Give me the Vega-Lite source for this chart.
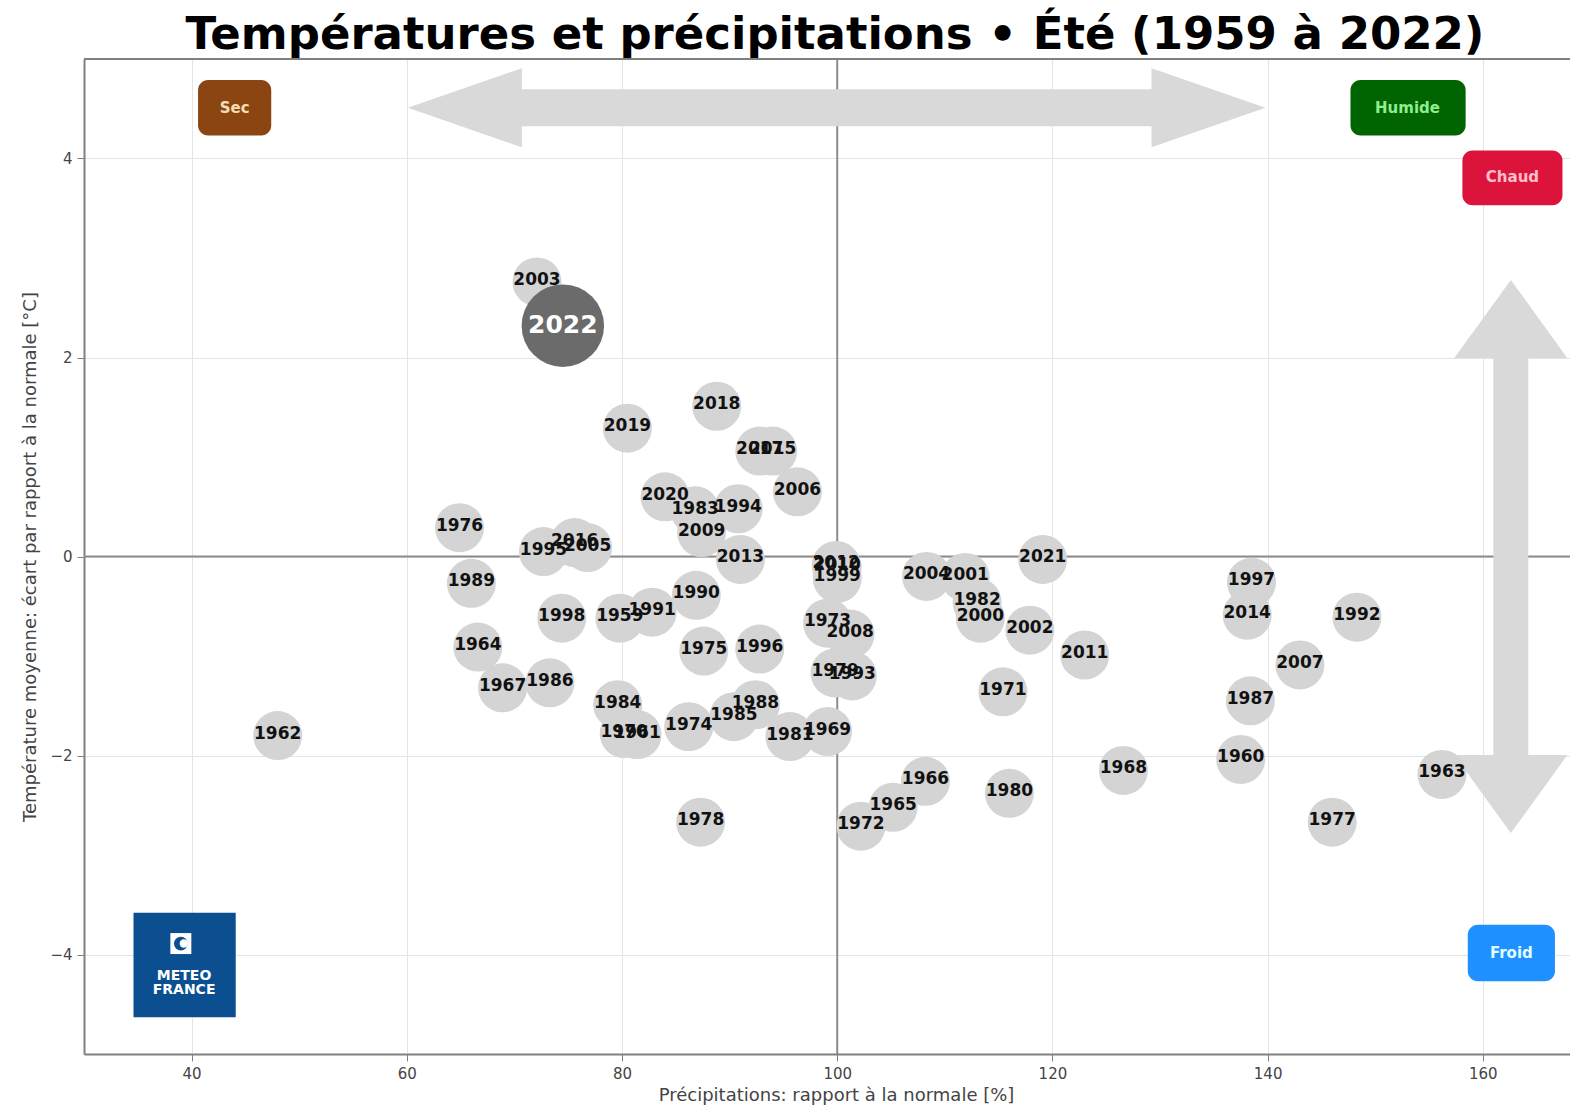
{
  "$schema": "https://vega.github.io/schema/vega-lite/v6.json",
  "width": 1486,
  "height": 995,
  "autosize": {"type": "none"},
  "padding": {"left": 84, "top": 59, "right": 0, "bottom": 60},
  "background": "white",
  "title": {
    "text": "Températures et précipitations • Été (1959 à 2022)",
    "font": "DejaVu Sans",
    "fontSize": 45,
    "fontWeight": "bold",
    "color": "#000000",
    "anchor": "middle",
    "offset": 0,
    "dx": 8
  },
  "config": {
    "view": {"stroke": null},
    "axis": {
      "labelFont": "DejaVu Sans",
      "titleFont": "DejaVu Sans",
      "labelFontSize": 15,
      "titleFontSize": 18,
      "titleFontWeight": "normal",
      "labelColor": "#444444",
      "titleColor": "#444444",
      "domainColor": "#808080",
      "domainWidth": 2,
      "tickColor": "#808080",
      "tickSize": 7,
      "labelPadding": 5,
      "gridColor": "#e4e4e4",
      "gridWidth": 1
    }
  },
  "datasets": {
    "years": [
      {"year": 1959, "precip": 79.8, "temp": -0.62},
      {"year": 1960, "precip": 137.5, "temp": -2.04},
      {"year": 1961, "precip": 81.4, "temp": -1.79},
      {"year": 1962, "precip": 48.0, "temp": -1.80},
      {"year": 1963, "precip": 156.2, "temp": -2.19},
      {"year": 1964, "precip": 66.6, "temp": -0.91},
      {"year": 1965, "precip": 105.2, "temp": -2.52},
      {"year": 1966, "precip": 108.2, "temp": -2.26},
      {"year": 1967, "precip": 68.9, "temp": -1.32},
      {"year": 1968, "precip": 126.6, "temp": -2.15},
      {"year": 1969, "precip": 99.1, "temp": -1.76},
      {"year": 1970, "precip": 80.2, "temp": -1.78},
      {"year": 1971, "precip": 115.4, "temp": -1.36},
      {"year": 1972, "precip": 102.2, "temp": -2.71},
      {"year": 1973, "precip": 99.1, "temp": -0.67},
      {"year": 1974, "precip": 86.2, "temp": -1.71},
      {"year": 1975, "precip": 87.6, "temp": -0.95},
      {"year": 1976, "precip": 64.9, "temp": 0.29},
      {"year": 1977, "precip": 146.0, "temp": -2.67},
      {"year": 1978, "precip": 87.3, "temp": -2.67},
      {"year": 1979, "precip": 99.8, "temp": -1.17},
      {"year": 1980, "precip": 116.0, "temp": -2.38},
      {"year": 1981, "precip": 95.6, "temp": -1.81},
      {"year": 1982, "precip": 113.0, "temp": -0.46},
      {"year": 1983, "precip": 86.8, "temp": 0.46},
      {"year": 1984, "precip": 79.6, "temp": -1.49},
      {"year": 1985, "precip": 90.4, "temp": -1.61},
      {"year": 1986, "precip": 73.3, "temp": -1.27},
      {"year": 1987, "precip": 138.4, "temp": -1.45},
      {"year": 1988, "precip": 92.4, "temp": -1.49},
      {"year": 1989, "precip": 66.0, "temp": -0.27},
      {"year": 1990, "precip": 86.9, "temp": -0.39},
      {"year": 1991, "precip": 82.8, "temp": -0.56},
      {"year": 1992, "precip": 148.3, "temp": -0.61},
      {"year": 1993, "precip": 101.4, "temp": -1.20},
      {"year": 1994, "precip": 90.8, "temp": 0.48},
      {"year": 1995, "precip": 72.7, "temp": 0.05},
      {"year": 1996, "precip": 92.8, "temp": -0.93},
      {"year": 1997, "precip": 138.5, "temp": -0.26},
      {"year": 1998, "precip": 74.4, "temp": -0.62},
      {"year": 1999, "precip": 100.0, "temp": -0.22},
      {"year": 2000, "precip": 113.3, "temp": -0.62},
      {"year": 2001, "precip": 111.9, "temp": -0.21},
      {"year": 2002, "precip": 117.9, "temp": -0.74},
      {"year": 2003, "precip": 72.1, "temp": 2.76},
      {"year": 2004, "precip": 108.3, "temp": -0.20},
      {"year": 2005, "precip": 76.8, "temp": 0.09},
      {"year": 2006, "precip": 96.3, "temp": 0.65},
      {"year": 2007, "precip": 143.0, "temp": -1.09},
      {"year": 2008, "precip": 101.2, "temp": -0.78},
      {"year": 2009, "precip": 87.4, "temp": 0.24},
      {"year": 2010, "precip": 100.0, "temp": -0.11},
      {"year": 2011, "precip": 123.0, "temp": -0.99},
      {"year": 2012, "precip": 99.9, "temp": -0.09},
      {"year": 2013, "precip": 91.0, "temp": -0.03},
      {"year": 2014, "precip": 138.1, "temp": -0.59},
      {"year": 2015, "precip": 94.0, "temp": 1.06},
      {"year": 2016, "precip": 75.6, "temp": 0.14},
      {"year": 2017, "precip": 92.8, "temp": 1.06},
      {"year": 2018, "precip": 88.8, "temp": 1.51},
      {"year": 2019, "precip": 80.5, "temp": 1.29},
      {"year": 2020, "precip": 84.0, "temp": 0.60},
      {"year": 2021, "precip": 119.1, "temp": -0.03},
      {"year": 2022, "precip": 74.5, "temp": 2.32}
    ],
    "boxes": [
      {"label": "Sec", "x1": 40.6, "x2": 47.4, "y1": 4.23, "y2": 4.79, "tx": 44.0, "ty": 4.51},
      {"label": "Humide", "x1": 147.7, "x2": 158.4, "y1": 4.23, "y2": 4.79, "tx": 153.0, "ty": 4.51},
      {"label": "Chaud", "x1": 158.1, "x2": 167.4, "y1": 3.53, "y2": 4.08, "tx": 162.75, "ty": 3.81},
      {"label": "Froid", "x1": 158.6, "x2": 166.7, "y1": -4.27, "y2": -3.70, "tx": 162.65, "ty": -3.98}
    ],
    "heads": [
      {"dir": "left", "x": 60.1, "y": 4.51},
      {"dir": "right", "x": 139.8, "y": 4.51},
      {"dir": "up", "x": 162.6, "y": 2.78},
      {"dir": "down", "x": 162.6, "y": -2.78}
    ]
  },
  "layer": [
    {
      "data": {"values": [{"x": 100}]},
      "mark": {"type": "rule", "color": "#8c8c8c", "strokeWidth": 2},
      "encoding": {
        "x": {
          "field": "x",
          "type": "quantitative",
          "scale": {"domain": [30, 168.1], "nice": false, "zero": false},
          "axis": {
            "title": "Précipitations: rapport à la normale [%]",
            "values": [40, 60, 80, 100, 120, 140, 160],
            "format": "d",
            "titlePadding": 5,
            "titleX": 752
          }
        }
      }
    },
    {
      "data": {"values": [{"y": 0}]},
      "mark": {"type": "rule", "color": "#8c8c8c", "strokeWidth": 2},
      "encoding": {
        "y": {
          "field": "y",
          "type": "quantitative",
          "scale": {"domain": [-5, 5], "nice": false, "zero": false},
          "axis": {
            "title": "Température moyenne: écart par rapport à la normale [°C]",
            "values": [-4, -2, 0, 2, 4],
            "format": "d",
            "titlePadding": 10
          }
        }
      }
    },
    {
      "data": {"values": [{"y": 5}]},
      "mark": {"type": "rule", "color": "#808080", "strokeWidth": 2},
      "encoding": {
        "y": {"field": "y", "type": "quantitative", "scale": {"domain": [-5, 5], "nice": false, "zero": false}}
      }
    },
    {
      "data": {"values": [{"xa": 66, "xb": 134, "y": 4.51}]},
      "mark": {"type": "rule", "color": "#d9d9d9", "strokeWidth": 37, "strokeCap": "butt"},
      "encoding": {
        "x": {"field": "xa", "type": "quantitative", "scale": {"domain": [30, 168.1], "nice": false, "zero": false}},
        "x2": {"field": "xb"},
        "y": {"field": "y", "type": "quantitative", "scale": {"domain": [-5, 5], "nice": false, "zero": false}}
      }
    },
    {
      "data": {"values": [{"x": 162.6, "ya": 2.45, "yb": -2.45}]},
      "mark": {"type": "rule", "color": "#d9d9d9", "strokeWidth": 35, "strokeCap": "butt"},
      "encoding": {
        "x": {"field": "x", "type": "quantitative", "scale": {"domain": [30, 168.1], "nice": false, "zero": false}},
        "y": {"field": "ya", "type": "quantitative", "scale": {"domain": [-5, 5], "nice": false, "zero": false}},
        "y2": {"field": "yb"}
      }
    },
    {
      "data": {"name": "heads"},
      "mark": {"type": "point", "filled": true, "opacity": 1, "color": "#d9d9d9", "size": 10000, "strokeWidth": 0},
      "encoding": {
        "x": {"field": "x", "type": "quantitative", "scale": {"domain": [30, 168.1], "nice": false, "zero": false}},
        "y": {"field": "y", "type": "quantitative", "scale": {"domain": [-5, 5], "nice": false, "zero": false}},
        "shape": {
          "field": "dir",
          "type": "nominal",
          "legend": null,
          "scale": {
            "domain": ["left", "right", "up", "down"],
            "range": [
              "M0,0L2.28,-0.79L2.28,0.79Z",
              "M0,0L-2.28,-0.79L-2.28,0.79Z",
              "M0,0L-1.13,1.56L1.13,1.56Z",
              "M0,0L-1.13,-1.56L1.13,-1.56Z"
            ]
          }
        }
      }
    },
    {
      "data": {"name": "boxes"},
      "mark": {"type": "rect", "cornerRadius": 10},
      "encoding": {
        "x": {"field": "x1", "type": "quantitative", "scale": {"domain": [30, 168.1], "nice": false, "zero": false}},
        "x2": {"field": "x2"},
        "y": {"field": "y1", "type": "quantitative", "scale": {"domain": [-5, 5], "nice": false, "zero": false}},
        "y2": {"field": "y2"},
        "fill": {
          "field": "label",
          "type": "nominal",
          "legend": null,
          "scale": {"domain": ["Sec", "Humide", "Chaud", "Froid"], "range": ["#8b4513", "#006400", "#dc143c", "#1e90ff"]}
        }
      }
    },
    {
      "data": {"name": "boxes"},
      "mark": {"type": "text", "font": "DejaVu Sans", "fontWeight": "bold", "fontSize": 15, "baseline": "middle", "align": "center"},
      "encoding": {
        "x": {"field": "tx", "type": "quantitative", "scale": {"domain": [30, 168.1], "nice": false, "zero": false}},
        "y": {"field": "ty", "type": "quantitative", "scale": {"domain": [-5, 5], "nice": false, "zero": false}},
        "text": {"field": "label", "type": "nominal"},
        "color": {
          "field": "label",
          "type": "nominal",
          "legend": null,
          "scale": {"domain": ["Sec", "Humide", "Chaud", "Froid"], "range": ["#f5deb3", "#90ee90", "#ffc0cb", "#e0ffff"]}
        }
      }
    },
    {
      "data": {"values": [{"x1": 34.6, "x2": 44.1, "y1": -3.58, "y2": -4.63}]},
      "mark": {"type": "rect", "color": "#0b4f90"},
      "encoding": {
        "x": {"field": "x1", "type": "quantitative", "scale": {"domain": [30, 168.1], "nice": false, "zero": false}},
        "x2": {"field": "x2"},
        "y": {"field": "y1", "type": "quantitative", "scale": {"domain": [-5, 5], "nice": false, "zero": false}},
        "y2": {"field": "y2"}
      }
    },
    {
      "data": {"values": [{"x": 39.0, "y": -3.89}]},
      "mark": {"type": "point", "shape": "square", "filled": true, "opacity": 1, "color": "#ffffff", "size": 440},
      "encoding": {
        "x": {"field": "x", "type": "quantitative", "scale": {"domain": [30, 168.1], "nice": false, "zero": false}},
        "y": {"field": "y", "type": "quantitative", "scale": {"domain": [-5, 5], "nice": false, "zero": false}}
      }
    },
    {
      "data": {"values": [{"x": 39.0, "y": -3.89}]},
      "mark": {"type": "point", "shape": "circle", "filled": true, "opacity": 1, "color": "#0b4f90", "size": 190},
      "encoding": {
        "x": {"field": "x", "type": "quantitative", "scale": {"domain": [30, 168.1], "nice": false, "zero": false}},
        "y": {"field": "y", "type": "quantitative", "scale": {"domain": [-5, 5], "nice": false, "zero": false}}
      }
    },
    {
      "data": {"values": [{"x": 39.0, "y": -3.89}]},
      "mark": {"type": "point", "shape": "circle", "filled": true, "opacity": 1, "color": "#ffffff", "size": 70, "xOffset": 3},
      "encoding": {
        "x": {"field": "x", "type": "quantitative", "scale": {"domain": [30, 168.1], "nice": false, "zero": false}},
        "y": {"field": "y", "type": "quantitative", "scale": {"domain": [-5, 5], "nice": false, "zero": false}}
      }
    },
    {
      "data": {"values": [{"x": 39.3, "y": -4.22, "t": "METEO"}, {"x": 39.3, "y": -4.36, "t": "FRANCE"}]},
      "mark": {"type": "text", "font": "DejaVu Sans", "fontWeight": "bold", "fontSize": 14, "color": "#ffffff", "baseline": "middle", "align": "center"},
      "encoding": {
        "x": {"field": "x", "type": "quantitative", "scale": {"domain": [30, 168.1], "nice": false, "zero": false}},
        "y": {"field": "y", "type": "quantitative", "scale": {"domain": [-5, 5], "nice": false, "zero": false}},
        "text": {"field": "t", "type": "nominal"}
      }
    },
    {
      "data": {"name": "years"},
      "transform": [{"filter": "datum.year != 2022"}],
      "mark": {"type": "point", "shape": "circle", "filled": true, "opacity": 1, "color": "#d4d4d4", "size": 2400},
      "encoding": {
        "x": {"field": "precip", "type": "quantitative", "scale": {"domain": [30, 168.1], "nice": false, "zero": false}},
        "y": {"field": "temp", "type": "quantitative", "scale": {"domain": [-5, 5], "nice": false, "zero": false}}
      }
    },
    {
      "data": {"name": "years"},
      "transform": [{"filter": "datum.year != 2022"}],
      "mark": {"type": "text", "font": "DejaVu Sans", "fontWeight": "bold", "fontSize": 17, "color": "#111111", "baseline": "middle", "align": "center", "dy": -2},
      "encoding": {
        "x": {"field": "precip", "type": "quantitative", "scale": {"domain": [30, 168.1], "nice": false, "zero": false}},
        "y": {"field": "temp", "type": "quantitative", "scale": {"domain": [-5, 5], "nice": false, "zero": false}},
        "text": {"field": "year", "type": "nominal"}
      }
    },
    {
      "data": {"name": "years"},
      "transform": [{"filter": "datum.year == 2022"}],
      "mark": {"type": "point", "shape": "circle", "filled": true, "opacity": 1, "color": "#6b6b6b", "size": 6800},
      "encoding": {
        "x": {"field": "precip", "type": "quantitative", "scale": {"domain": [30, 168.1], "nice": false, "zero": false}},
        "y": {"field": "temp", "type": "quantitative", "scale": {"domain": [-5, 5], "nice": false, "zero": false}}
      }
    },
    {
      "data": {"name": "years"},
      "transform": [{"filter": "datum.year == 2022"}],
      "mark": {"type": "text", "font": "DejaVu Sans", "fontWeight": "bold", "fontSize": 25, "color": "#ffffff", "baseline": "middle", "align": "center", "dy": -1},
      "encoding": {
        "x": {"field": "precip", "type": "quantitative", "scale": {"domain": [30, 168.1], "nice": false, "zero": false}},
        "y": {"field": "temp", "type": "quantitative", "scale": {"domain": [-5, 5], "nice": false, "zero": false}},
        "text": {"field": "year", "type": "nominal"}
      }
    }
  ]
}
